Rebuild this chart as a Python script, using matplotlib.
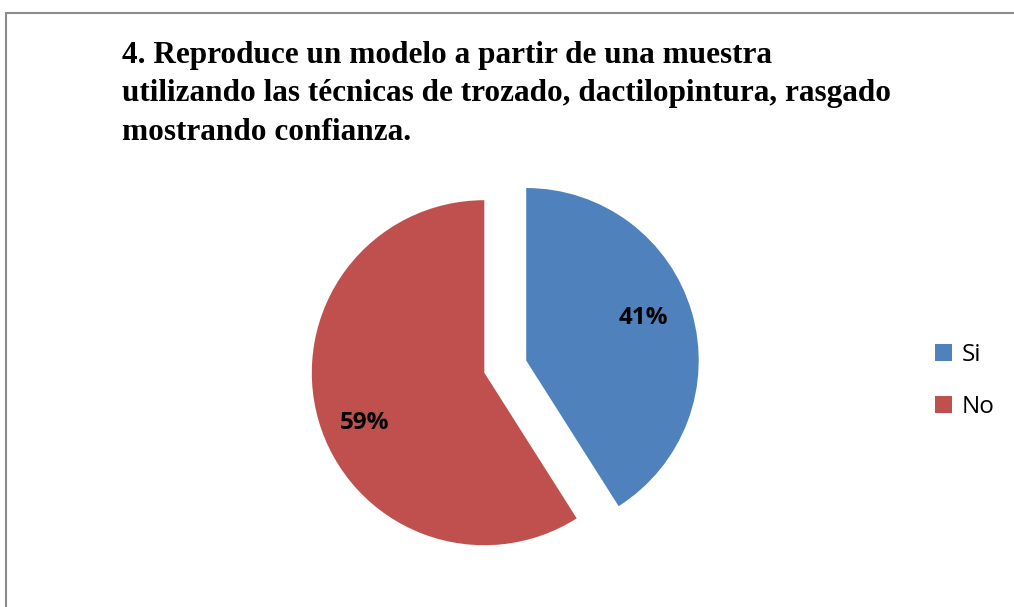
import matplotlib
matplotlib.use("Agg")
import matplotlib.pyplot as plt
from matplotlib.patches import Rectangle, Patch

# Datos del gráfico
categorias = ["Si", "No"]
porcentajes = [41, 59]
colores = ["#4F81BD", "#C0504D"]
titulo = [
    "4. Reproduce un modelo a partir de una muestra",
    "utilizando las técnicas de trozado, dactilopintura, rasgado",
    "mostrando confianza.",
]

W, H = 1014, 607
fig = plt.figure(figsize=(W / 100, H / 100), dpi=100)

# Marco gris del gráfico
fig.add_artist(Rectangle((6 / W, -0.1), 2, 1 - 13 / H + 0.1, transform=fig.transFigure,
                         fill=False, edgecolor="#8c8c8c", lw=1.5))

# Título en tres líneas
for i, linea in enumerate(titulo):
    fig.text(122 / W, 1 - (63 + i * 38.5) / H, linea, ha="left", va="baseline",
             fontsize=22.5, fontweight="bold", family="Liberation Serif")

# Pastel: centro (484, 373) px, radio 172.5 px
R = 172.5
lim = 1.3
size = 2 * lim * R
cx, cy = 484.3, 372.7
ax = fig.add_axes([(cx - size / 2) / W, (H - cy - size / 2) / H, size / W, size / H])
wedges, textos, autotextos = ax.pie(
    porcentajes, colors=colores, startangle=90, counterclock=False,
    explode=[0.253, 0], autopct=lambda p: f"{p:.0f}%", pctdistance=0.73,
    textprops=dict(fontsize=17.5, fontweight="bold", family="Open Sans", color="black"))
# posiciones de las etiquetas como en el original
autotextos[0].set_position((0.922, 0.315))
autotextos[1].set_position((-0.692, -0.290))
ax.set_xlim(-lim, lim)
ax.set_ylim(-lim, lim)
ax.set_aspect("equal")
ax.axis("off")

# Leyenda
handles = [Patch(facecolor=c, edgecolor="none") for c in colores]
fig.legend(handles, categorias, loc="center left", bbox_to_anchor=(935 / W, 1 - 381 / H),
           frameon=False, prop=dict(family="Open Sans", size=17.5),
           handlelength=0.7, handleheight=0.7, handletextpad=0.4,
           labelspacing=1.15, borderpad=0, borderaxespad=0)

fig.savefig("out.png", dpi=100)
